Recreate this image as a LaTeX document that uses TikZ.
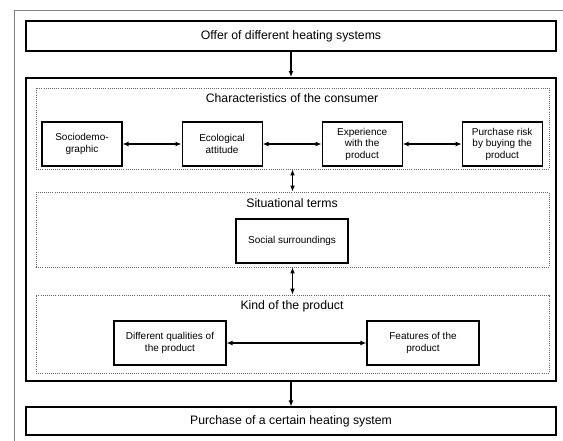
\documentclass[tikz,border=0pt]{standalone}
\usepackage{fontspec}
\setmainfont{Liberation Sans}
\usepackage{tikz}
\usetikzlibrary{arrows.meta}
\usetikzlibrary{positioning}
\tikzset{> = {Latex[length=4.5pt,width=3.6pt]}, x = 0.75pt, y = -0.75pt,
  bigbox/.style = {draw, line width = 0.9pt, minimum width = 397.5pt, inner sep = 0pt,
    font = \fontsize{9.2}{11}\selectfont},
  mainbox/.style = {draw, line width = 1.5pt, minimum width = 397.5pt, minimum height = 227.25pt, inner sep = 0pt},
  group/.style = {draw, gray!80!black, densely dotted, line width = 0.6pt, minimum width = 384.75pt, inner sep = 0pt},
  heading/.style = {font = \fontsize{9.2}{11}\selectfont, inner sep = 0pt},
  factor/.style = {draw, line width = 0.8pt, minimum height = 33pt, minimum width = 60pt, inner sep = 0pt,
    align = center, font = \fontsize{7.5}{8.6}\selectfont},
  link/.style = {<->, line width = 0.8pt}}

\begin{document}
\begin{tikzpicture}
    \clip (0,0) rectangle (563,440);
    \draw [gray, line width = 0.6pt] (14,10) rectangle (600,470);
    \node [bigbox, minimum height = 22.5pt] (offer) at (291,36) {Offer of different heating systems};
    \node [mainbox] (main) at (291,229.5) {};
    \node [bigbox, minimum height = 21pt] (purchase) at (291,421) {Purchase of a certain heating system};
    % consumer
    \node [group, minimum height = 60.75pt] (chargrp) at (292.5,128.5) {};
    \node [heading] (charhead) at (292,98) {Characteristics of the consumer};
    \node [factor] (socio) at (82,144) {Sociodemo-\\graphic};
    \node [factor, right = 44.25pt of socio] (eco) {Ecological\\attitude};
    \node [factor, right = 44.25pt of eco] (exper) {Experience\\with the\\product};
    \node [factor, right = 44.25pt of exper] (risk) {Purchase risk\\by buying the\\product};
    % situation
    \node [group, minimum height = 56.25pt] (sitgrp) at (292.5,229.5) {};
    \node [heading] (sithead) at (292,203) {Situational terms};
    \node [factor, minimum width = 84pt] (social) at (292,241) {Social surroundings};
    % product
    \node [group, minimum height = 58.5pt] (kindgrp) at (292.5,334) {};
    \node [heading] (kindhead) at (292,306) {Kind of the product};
    \node [factor, minimum width = 84pt] (qual) at (170,343) {Different qualities of\\the product};
    \node [factor, minimum width = 84pt] (feat) at (423,343) {Features of the\\product};
    % paths
    \draw [->, line width = 0.8pt] (offer) -- (main);
    \draw [->, line width = 0.8pt] (main) -- (purchase);
    \draw [link] (socio) -- (eco);
    \draw [link] (eco) -- (exper);
    \draw [link] (exper) -- (risk);
    \draw [link] (chargrp) -- (sitgrp);
    \draw [link] (sitgrp) -- (kindgrp);
    \draw [link] (qual) -- (feat);
\end{tikzpicture}
\end{document}
